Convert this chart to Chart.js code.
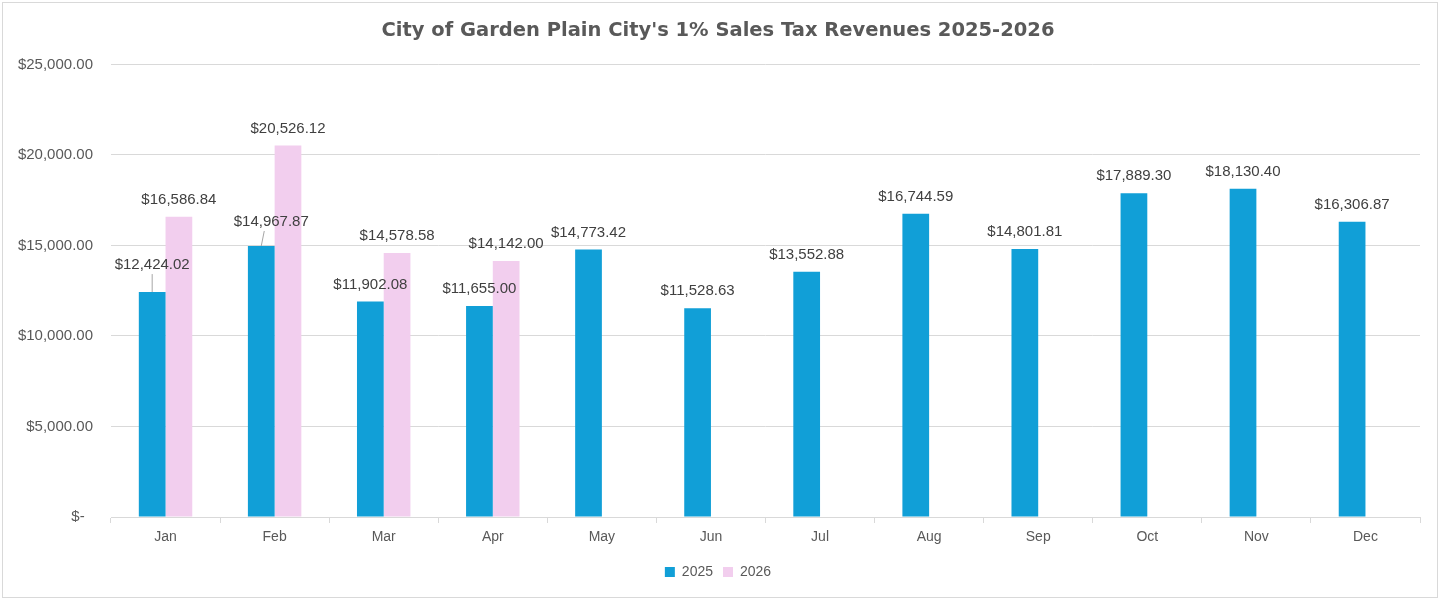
<!DOCTYPE html>
<html>
<head>
<meta charset="utf-8">
<script src="https://cdn.jsdelivr.net/npm/chart.js@4/dist/chart.umd.min.js"></script>
<style>
  body { margin: 0; background: #fff; }
  #wrap { width: 1442px; height: 599px; position: relative; }
</style>
</head>
<body>
<div id="wrap"><canvas id="revenueChart" width="1442" height="599"></canvas></div>
<script>
const months = ['Jan', 'Feb', 'Mar', 'Apr', 'May', 'Jun', 'Jul', 'Aug', 'Sep', 'Oct', 'Nov', 'Dec'];
const revenue2025 = [12424.02, 14967.87, 11902.08, 11655.00, 14773.42, 11528.63, 13552.88, 16744.59, 14801.81, 17889.30, 18130.40, 16306.87];
const revenue2026 = [16586.84, 20526.12, 14578.58, 14142.00, null, null, null, null, null, null, null, null];
const yTicks = [0, 5000, 10000, 15000, 20000, 25000];

const grey = '#595959';
const sans = '"Liberation Sans", Arial, sans-serif';

function money(v) {
    return '$' + v.toLocaleString('en-US', { minimumFractionDigits: 2, maximumFractionDigits: 2 });
}

// labels that Excel pulled up with a leader line (dataset-index : [dx, dy])
const movedLabels = { '0-0': [0, 27], '0-1': [10, 24] };

// Border round the chart
const frame = {
    id: 'frame',
    beforeDraw(chart) {
        const c = chart.ctx;
        c.save();
        c.fillStyle = '#fff';
        c.fillRect(0, 0, chart.width, chart.height);
        c.strokeStyle = '#d9d9d9';
        c.lineWidth = 1;
        c.strokeRect(2.5, 2.5, 1435, 595);
        c.restore();
    }
};

// Value labels above the bars
const valueLabels = {
    id: 'valueLabels',
    afterDatasetsDraw(chart) {
        const c = chart.ctx;
        c.save();
        c.font = '15px ' + sans;
        c.fillStyle = '#404040';
        c.textAlign = 'center';
        c.textBaseline = 'middle';
        chart.data.datasets.forEach((ds, di) => {
            chart.getDatasetMeta(di).data.forEach((bar, i) => {
                const v = ds.data[i];
                if (v === null || v === undefined) return;
                const nudge = movedLabels[di + '-' + i];
                let x = bar.x, y = bar.y - 17;
                if (nudge) {
                    x = bar.x + nudge[0];
                    y = bar.y - nudge[1];
                    c.strokeStyle = '#a6a6a6';
                    c.lineWidth = 1;
                    c.beginPath();
                    c.moveTo(x - (nudge[0] ? 7 : 0), y + 9);
                    c.lineTo(bar.x, bar.y);
                    c.stroke();
                }
                c.fillText(money(v), x, y);
            });
        });
        c.restore();
    }
};

new Chart(document.getElementById('revenueChart').getContext('2d'), {
    type: 'bar',
    data: {
        labels: months,
        datasets: [
            { label: '2025', data: revenue2025, backgroundColor: '#119FD7' },
            { label: '2026', data: revenue2026, backgroundColor: '#F2CEEE' }
        ]
    },
    options: {
        responsive: false,
        animation: false,
        categoryPercentage: 0.49,
        barPercentage: 1,
        layout: { padding: { top: 15, left: 16, right: 22, bottom: 10 } },
        plugins: {
            title: {
                display: true,
                text: "City of Garden Plain City's 1% Sales Tax Revenues 2025-2026",
                color: grey,
                font: { family: '"DejaVu Sans", sans-serif', size: 19.5, weight: 'bold' },
                padding: { top: 4, bottom: 22 }
            },
            legend: {
                position: 'bottom',
                labels: {
                    color: grey,
                    font: { family: sans, size: 14 },
                    boxWidth: 10,
                    boxHeight: 10,
                    padding: 10
                }
            },
            tooltip: { enabled: false }
        },
        scales: {
            x: {
                grid: { display: true, drawOnChartArea: false, color: '#d9d9d9', tickLength: 6, offset: true },
                border: { color: '#d9d9d9' },
                ticks: { color: grey, font: { family: sans, size: 14 }, padding: 6 },
                afterFit(scale) { scale.height = 38; }
            },
            y: {
                min: 0,
                max: 25000,
                afterBuildTicks(scale) { scale.ticks = yTicks.map(v => ({ value: v })); },
                grid: { color: '#d9d9d9', drawTicks: false },
                border: { display: false },
                ticks: {
                    color: grey,
                    font: { family: sans, size: 15 },
                    padding: 18,
                    callback: v => v === 0 ? '$-  ' : money(v)
                },
                afterFit(scale) { scale.width = 95; }
            }
        }
    },
    plugins: [frame, valueLabels]
});
</script>
</body>
</html>
